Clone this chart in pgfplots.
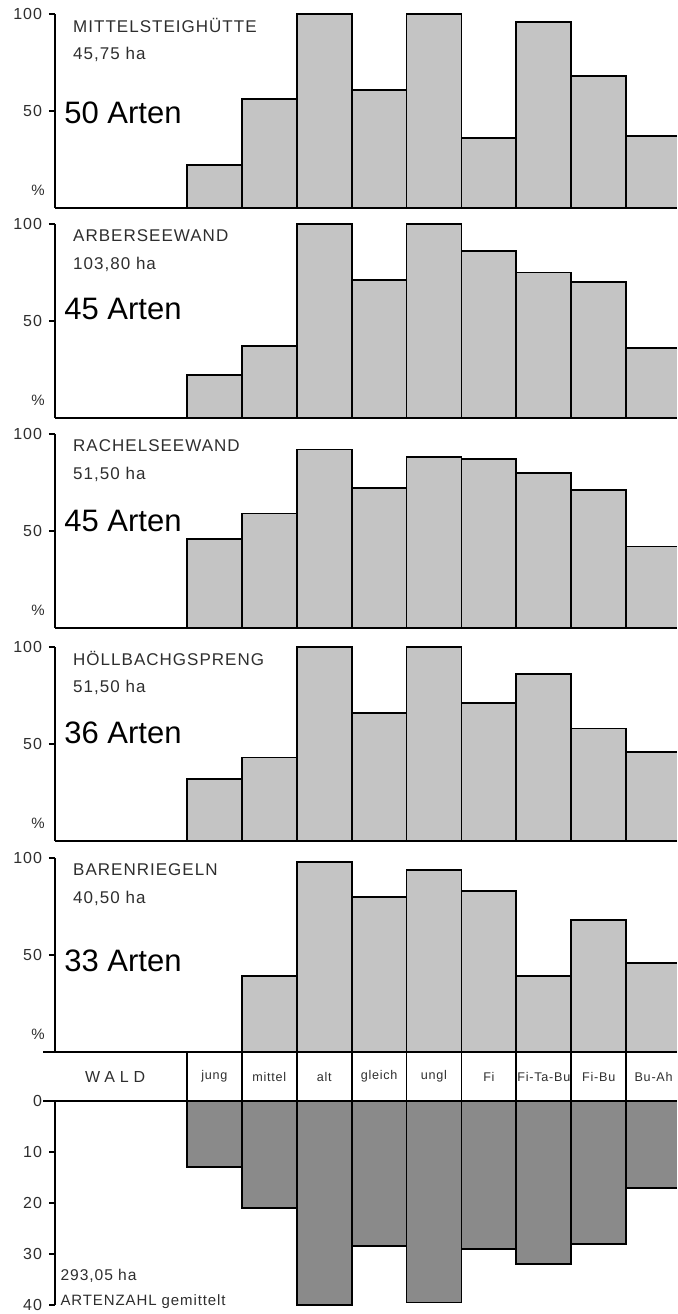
\documentclass[border=0pt]{standalone}
\usepackage{fontspec}
\setmainfont{Liberation Sans}
\newfontfamily\smallf[LetterSpace=6]{Liberation Sans}
\usepackage{pgfplots}
\pgfplotsset{compat=1.18}
\definecolor{barlight}{HTML}{C4C4C4}
\definecolor{bardark}{HTML}{8A8A8A}
\definecolor{txt}{HTML}{2E2E2E}
\pgfplotsset{
  panel/.style={
    scale only axis, width=311pt, height=97pt,
    xmin=-2.904, xmax=8.426, ymin=0, ymax=100,
    axis x line*=bottom, axis y line*=left,
    axis line style={-, line width=1.1pt, black},
    xtick=\empty, ytick={50,100}, ytick pos=left,
    tick style={black, line width=0.8pt},
    major tick length=3pt, tick align=outside,
    yticklabel style={font=\smallf\fontsize{8}{9}\selectfont, text=txt, /pgf/number format/assume math mode=true},
    clip mode=individual,
  },
  bars/.style={ybar, bar width=1, fill=barlight, draw=black, line width=0.9pt},
}
\tikzset{
  ttl/.style={anchor=west, inner sep=0pt, font=\smallf\fontsize{8.5}{9}\selectfont, text=txt},
  arten/.style={anchor=west, inner sep=0pt, font=\fontsize{15.5}{18}\selectfont, text=black},
  pct/.style={anchor=east, inner sep=0pt, xshift=-5pt, font=\smallf\fontsize{7.5}{8}\selectfont, text=txt},
  cell/.style={inner sep=0pt, font=\smallf\fontsize{6.3}{7}\selectfont, text=txt},
}
\begin{document}
\begin{tikzpicture}
\useasboundingbox (0,0) rectangle (338.5pt,657pt);
% Panel 1
\begin{axis}[panel, at={(27.5pt,553pt)}, anchor=south west]
\addplot[bars] coordinates {(0,22) (1,56) (2,100) (3,61) (4,100) (5,36) (6,96) (7,68) (8,37)};
\node[ttl] at (axis cs:-2.58,94) {MITTELSTEIGHÜTTE};
\node[ttl] at (axis cs:-2.58,79) {45,75 ha};
\node[arten] at (axis cs:-2.74,49) {50 Arten};
\node[pct] at (axis cs:-2.904,9) {\%};
\end{axis}
% Panel 2
\begin{axis}[panel, at={(27.5pt,448pt)}, anchor=south west]
\addplot[bars] coordinates {(0,22) (1,37) (2,100) (3,71) (4,100) (5,86) (6,75) (7,70) (8,36)};
\node[ttl] at (axis cs:-2.58,94) {ARBERSEEWAND};
\node[ttl] at (axis cs:-2.58,79) {103,80 ha};
\node[arten] at (axis cs:-2.74,56) {45 Arten};
\node[pct] at (axis cs:-2.904,9) {\%};
\end{axis}
% Panel 3
\begin{axis}[panel, at={(27.5pt,343pt)}, anchor=south west]
\addplot[bars] coordinates {(0,46) (1,59) (2,92) (3,72) (4,88) (5,87) (6,80) (7,71) (8,42)};
\node[ttl] at (axis cs:-2.58,94) {RACHELSEEWAND};
\node[ttl] at (axis cs:-2.58,79) {51,50 ha};
\node[arten] at (axis cs:-2.74,55) {45 Arten};
\node[pct] at (axis cs:-2.904,9) {\%};
\end{axis}
% Panel 4
\begin{axis}[panel, at={(27.5pt,236.5pt)}, anchor=south west]
\addplot[bars] coordinates {(0,32) (1,43) (2,100) (3,66) (4,100) (5,71) (6,86) (7,58) (8,46)};
\node[ttl] at (axis cs:-2.58,94) {HÖLLBACHGSPRENG};
\node[ttl] at (axis cs:-2.58,79) {51,50 ha};
\node[arten] at (axis cs:-2.74,56) {36 Arten};
\node[pct] at (axis cs:-2.904,9) {\%};
\end{axis}
% Panel 5
\begin{axis}[panel, at={(27.5pt,131pt)}, anchor=south west]
\addplot[bars] coordinates {(1,39) (2,98) (3,80) (4,94) (5,83) (6,39) (7,68) (8,46)};
\node[ttl] at (axis cs:-2.58,94) {BARENRIEGELN};
\node[ttl] at (axis cs:-2.58,79) {40,50 ha};
\node[arten] at (axis cs:-2.74,47) {33 Arten};
\node[pct] at (axis cs:-2.904,9) {\%};
\end{axis}
% Bottom panel
\begin{axis}[panel, at={(27.5pt,4.5pt)}, anchor=south west, height=102pt,
  ymin=0, ymax=40, y dir=reverse, ytick={0,10,20,30,40}, axis x line=none]
\addplot[bars, fill=bardark] coordinates {(0,13) (1,21) (2,40) (3,28.5) (4,39.5) (5,29) (6,32) (7,28) (8,17)};
\draw[line width=1.1pt] (axis cs:-3.12,-9.6) -- (axis cs:8.426,-9.6);
\draw[line width=1.1pt] (axis cs:-3.12,0) -- (axis cs:8.426,0);
\pgfplotsinvokeforeach{-0.5,0.5,1.5,2.5,3.5,4.5,5.5,6.5,7.5}{
  \draw[line width=0.9pt] (axis cs:#1,0) -- (axis cs:#1,-9.6);
}
\node[inner sep=0pt, font=\smallf\addfontfeature{LetterSpace=30}\fontsize{8}{9}\selectfont, text=txt] at (axis cs:-1.81,-4.8) {WALD};
\node[cell] at (axis cs:0,-4.8) {jung};
\node[cell] at (axis cs:1,-4.8) {mittel};
\node[cell] at (axis cs:2,-4.8) {alt};
\node[cell] at (axis cs:3,-4.8) {gleich};
\node[cell] at (axis cs:4,-4.8) {ungl};
\node[cell] at (axis cs:5,-4.8) {Fi};
\node[cell] at (axis cs:6,-4.8) {Fi-Ta-Bu};
\node[cell] at (axis cs:7,-4.8) {Fi-Bu};
\node[cell] at (axis cs:8,-4.8) {Bu-Ah};
\node[ttl, font=\smallf\fontsize{7.8}{9}\selectfont] at (axis cs:-2.81,34.2) {293,05 ha};
\node[ttl, font=\smallf\fontsize{7.5}{9}\selectfont] at (axis cs:-2.81,39.4) {ARTENZAHL gemittelt};
\end{axis}
\end{tikzpicture}
\end{document}
